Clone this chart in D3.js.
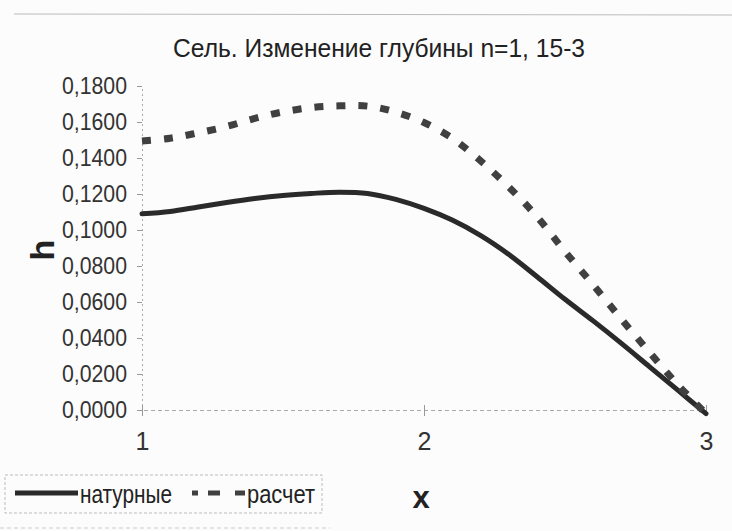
<!DOCTYPE html>
<html>
<head>
<meta charset="utf-8">
<script src="https://cdn.jsdelivr.net/npm/d3@7"></script>
<style>
  body { margin: 0; background: #fff; }
  svg { display: block; }
  .narrow { font-family: 'Liberation Sans Narrow', 'Liberation Sans', Arial, sans-serif; }
</style>
</head>
<body>
<div class="canvas"></div>
<script>
// data
const xs = [1.0, 1.1, 1.2, 1.3, 1.4, 1.5, 1.6, 1.7, 1.8, 1.9, 2.0,
            2.1, 2.2, 2.3, 2.4, 2.5, 2.6, 2.7, 2.8, 2.9, 3.0];
const natural = [0.1090, 0.1103, 0.1128, 0.1153, 0.1175, 0.1192, 0.1203, 0.1210, 0.1203, 0.1170, 0.1120,
                 0.1055, 0.0970, 0.0865, 0.0742, 0.0615, 0.0495, 0.0370, 0.0240, 0.0110, -0.0020];
const calc = [0.1494, 0.1510, 0.1540, 0.1575, 0.1620, 0.1656, 0.1680, 0.1690, 0.1688, 0.1655, 0.1597,
              0.1510, 0.1385, 0.1240, 0.1075, 0.0880, 0.0695, 0.0505, 0.0320, 0.0140, -0.0020];
const yTicks = [0, 0.02, 0.04, 0.06, 0.08, 0.10, 0.12, 0.14, 0.16, 0.18];
const xTicks = [1, 2, 3];
const seriesNames = ['натурные', 'расчет'];

const dims = { width: 732, height: 531 };
const plot = { left: 142, right: 706, top: 86, bottom: 410 };

const svg = d3.select('.canvas')
    .append('svg')
    .attr('width', dims.width)
    .attr('height', dims.height);

svg.append('rect')
    .attr('width', dims.width)
    .attr('height', dims.height)
    .attr('fill', '#fcfcfc');

// faint frame line at the top of the scan
svg.append('line')
    .attr('x1', 14).attr('x2', dims.width)
    .attr('y1', 14).attr('y2', 15)
    .attr('stroke', '#bbb')
    .attr('stroke-width', 1);

const x = d3.scaleLinear().domain([1, 3]).range([plot.left, plot.right]);
const y = d3.scaleLinear().domain([0, 0.18]).range([plot.bottom, plot.top]);

// title
svg.append('text')
    .attr('class', 'narrow')
    .attr('x', 173).attr('y', 57)
    .attr('textLength', 412)
    .attr('lengthAdjust', 'spacingAndGlyphs')
    .attr('font-size', 26)
    .attr('fill', '#222')
    .text('Сель. Изменение глубины n=1, 15-3');

// y axis
const yAxis = d3.axisLeft(y)
    .tickValues(yTicks)
    .tickSize(5)
    .tickPadding(10)
    .tickFormat(d => d.toFixed(4).replace('.', ','));

const gy = svg.append('g')
    .attr('transform', `translate(${plot.left},0)`)
    .call(yAxis);
gy.select('.domain')
    .attr('stroke', '#aaa')
    .attr('stroke-dasharray', '2,3');
gy.selectAll('.tick line').attr('stroke', '#999');
gy.selectAll('.tick text')
    .attr('class', 'narrow')
    .attr('font-size', 24)
    .attr('fill', '#333')
    .attr('textLength', 65)
    .attr('lengthAdjust', 'spacingAndGlyphs');

// x axis
const xAxis = d3.axisBottom(x)
    .tickValues(xTicks)
    .tickSize(6)
    .tickPadding(16)
    .tickFormat(d3.format('d'));

const gx = svg.append('g')
    .attr('transform', `translate(0,${plot.bottom})`)
    .call(xAxis);
gx.select('.domain')
    .attr('stroke', '#aaa')
    .attr('stroke-dasharray', '4,3');
gx.selectAll('.tick line').attr('stroke', '#999').attr('y1', -5);
gx.selectAll('.tick text')
    .attr('class', 'narrow')
    .attr('font-size', 25)
    .attr('fill', '#333');

// axis titles
svg.append('text')
    .attr('transform', 'translate(54,250) rotate(-90)')
    .attr('text-anchor', 'middle')
    .attr('font-family', 'Liberation Sans, Arial, sans-serif')
    .attr('font-weight', 'bold')
    .attr('font-size', 34)
    .attr('fill', '#222')
    .text('h');

svg.append('text')
    .attr('x', 421).attr('y', 508)
    .attr('text-anchor', 'middle')
    .attr('font-family', 'Liberation Sans, Arial, sans-serif')
    .attr('font-weight', 'bold')
    .attr('font-size', 31)
    .attr('fill', '#222')
    .text('x');

// lines
const line = d3.line()
    .x((d, i) => x(xs[i]))
    .y(d => y(d))
    .curve(d3.curveCatmullRom.alpha(0.5));

svg.append('path')
    .attr('d', line(natural))
    .attr('fill', 'none')
    .attr('stroke', '#2a2a2a')
    .attr('stroke-width', 5)
    .attr('stroke-linecap', 'round');

svg.append('path')
    .attr('d', line(calc))
    .attr('fill', 'none')
    .attr('stroke', '#404040')
    .attr('stroke-width', 7)
    .attr('stroke-dasharray', '9,13');

// legend
const legend = svg.append('g');
legend.append('rect')
    .attr('x', 5).attr('y', 475)
    .attr('width', 317).attr('height', 38)
    .attr('fill', 'none')
    .attr('stroke', '#bbb')
    .attr('stroke-dasharray', '3,2');

legend.append('line')
    .attr('x1', 15).attr('x2', 78)
    .attr('y1', 493).attr('y2', 493)
    .attr('stroke', '#2a2a2a')
    .attr('stroke-width', 5);
legend.append('text')
    .attr('class', 'narrow')
    .attr('x', 80).attr('y', 503)
    .attr('textLength', 92)
    .attr('lengthAdjust', 'spacingAndGlyphs')
    .attr('font-size', 25)
    .attr('fill', '#222')
    .text(seriesNames[0]);

legend.append('line')
    .attr('x1', 192).attr('x2', 246)
    .attr('y1', 493).attr('y2', 493)
    .attr('stroke', '#404040')
    .attr('stroke-width', 5)
    .attr('stroke-dasharray', '6,10,12,15,10');
legend.append('text')
    .attr('class', 'narrow')
    .attr('x', 247).attr('y', 503)
    .attr('textLength', 68)
    .attr('lengthAdjust', 'spacingAndGlyphs')
    .attr('font-size', 25)
    .attr('fill', '#222')
    .text(seriesNames[1]);

// faint scan line below the legend
svg.append('line')
    .attr('x1', 0).attr('x2', 330)
    .attr('y1', 528).attr('y2', 528)
    .attr('stroke', '#ccc')
    .attr('stroke-dasharray', '4,3');
</script>
</body>
</html>
